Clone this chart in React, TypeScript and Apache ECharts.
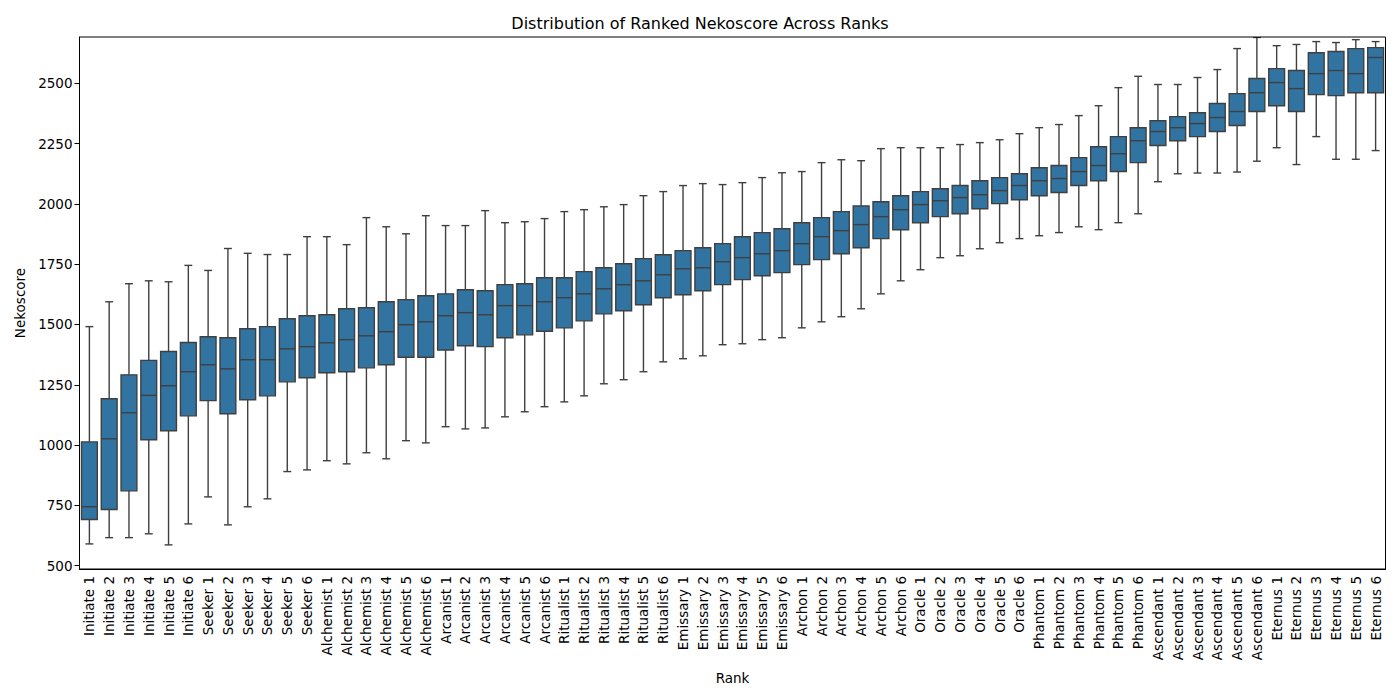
import React, { useEffect, useRef } from "react";
import * as echarts from "echarts";

const tiers = ["Initiate", "Seeker", "Alchemist", "Arcanist", "Ritualist", "Emissary", "Archon", "Oracle", "Phantom", "Ascendant", "Eternus"];
const categories: string[] = [];
tiers.forEach((t) => { for (let i = 1; i <= 6; i++) categories.push(`${t} ${i}`); });

const lows = [
  590, 616, 616, 632, 586, 673,
  785, 669, 744, 777, 890, 897,
  935, 922, 968, 943, 1018, 1009,
  1076, 1067, 1071, 1117, 1138, 1159,
  1179, 1204, 1254, 1271, 1304, 1345,
  1358, 1370, 1416, 1420, 1437, 1445,
  1486, 1511, 1532, 1565, 1627, 1681,
  1727, 1777, 1785, 1814, 1839, 1856,
  1868, 1881, 1905, 1893, 1922, 1959,
  2092, 2125, 2128, 2128, 2132, 2177,
  2233, 2163, 2279, 2185, 2185, 2221,
];
const q1s = [
  691, 733, 810, 1022, 1059, 1121,
  1184, 1130, 1188, 1204, 1262, 1279,
  1300, 1304, 1320, 1333, 1364, 1364,
  1394, 1412, 1408, 1445, 1457, 1472,
  1486, 1515, 1544, 1557, 1582, 1611,
  1623, 1640, 1665, 1686, 1702, 1715,
  1748, 1769, 1793, 1818, 1856, 1893,
  1922, 1947, 1959, 1980, 2001, 2017,
  2034, 2047, 2076, 2096, 2134, 2171,
  2242, 2262, 2279, 2300, 2325, 2383,
  2407, 2383, 2453, 2449, 2461, 2461,
];
const medians = [
  744, 1026, 1134, 1206, 1246, 1304,
  1333, 1316, 1354, 1354, 1399, 1408,
  1424, 1437, 1453, 1470, 1499, 1511,
  1536, 1549, 1540, 1578, 1578, 1594,
  1611, 1627, 1648, 1665, 1681, 1706,
  1731, 1735, 1760, 1777, 1793, 1806,
  1835, 1864, 1889, 1914, 1947, 1976,
  1997, 2013, 2026, 2038, 2055, 2076,
  2096, 2105, 2134, 2159, 2208, 2262,
  2300, 2316, 2333, 2358, 2383, 2461,
  2503, 2478, 2540, 2553, 2540, 2607,
];
const q3s = [
  1013, 1192, 1291, 1351, 1388, 1425,
  1449, 1445, 1482, 1491, 1524, 1536,
  1540, 1565, 1569, 1594, 1603, 1619,
  1627, 1644, 1640, 1665, 1669, 1694,
  1694, 1719, 1735, 1752, 1773, 1789,
  1806, 1818, 1835, 1864, 1881, 1897,
  1922, 1943, 1968, 1991, 2009, 2034,
  2051, 2063, 2076, 2096, 2109, 2125,
  2150, 2159, 2192, 2237, 2279, 2316,
  2345, 2362, 2378, 2416, 2457, 2520,
  2561, 2553, 2627, 2632, 2644, 2648,
];
const highs = [
  1491, 1594, 1669, 1681, 1677, 1745,
  1724, 1815, 1795, 1790, 1790, 1864,
  1864, 1831, 1943, 1905, 1876, 1951,
  1910, 1910, 1972, 1922, 1926, 1939,
  1968, 1976, 1988, 1997, 2034, 2051,
  2076, 2084, 2080, 2088, 2109, 2129,
  2134, 2171, 2183, 2179, 2229, 2233,
  2233, 2233, 2246, 2254, 2266, 2291,
  2316, 2329, 2366, 2407, 2482, 2529,
  2495, 2495, 2524, 2557, 2644, 2690,
  2656, 2661, 2673, 2669, 2681, 2673,
];
const yTicks = [500, 750, 1000, 1250, 1500, 1750, 2000, 2250, 2500];

const FILL = "#3274a1";
const LINE = "#3f3f3f";
const FONT = "DejaVu Sans";

export default function App() {
  const ref = useRef<HTMLDivElement>(null);
  useEffect(() => {
    if (!ref.current) return;
    const chart = echarts.init(ref.current, null, { renderer: "svg" });
    const data = categories.map((_, i) => [i, lows[i], q1s[i], medians[i], q3s[i], highs[i]]);
    chart.setOption({
      animation: false,
      backgroundColor: "#ffffff",
      title: {
        text: "Distribution of Ranked Nekoscore Across Ranks",
        left: "center",
        top: 10,
        textStyle: { fontFamily: FONT, fontSize: 16, fontWeight: "normal", color: "#000" },
      },
      grid: { left: 79.5, right: 14.5, top: 37, bottom: 131, containLabel: false },
      xAxis: {
        type: "category",
        data: categories,
        boundaryGap: true,
        name: "Rank",
        nameLocation: "middle",
        nameGap: 102,
        nameTextStyle: { fontFamily: FONT, fontSize: 13.5, color: "#000" },
        axisLine: { onZero: false, lineStyle: { color: "#000", width: 1 } },
        axisTick: { alignWithLabel: true, length: 5, lineStyle: { color: "#000" } },
        axisLabel: { interval: 0, rotate: 90, fontFamily: FONT, fontSize: 13.5, color: "#000", margin: 7 },
        splitLine: { show: false },
      },
      yAxis: {
        type: "value",
        min: 486,
        max: 2692,
        name: "Nekoscore",
        nameLocation: "middle",
        nameGap: 52,
        nameRotate: 90,
        nameTextStyle: { fontFamily: FONT, fontSize: 13.5, color: "#000" },
        axisLine: { show: true, lineStyle: { color: "#000", width: 1 } },
        axisTick: { show: true, length: 5, lineStyle: { color: "#000" }, customValues: yTicks },
        axisLabel: { fontFamily: FONT, fontSize: 13.5, color: "#000", margin: 7, customValues: yTicks, formatter: (v: number) => String(v) },
        splitLine: { show: false },
      },
      graphic: [
        {
          type: "rect",
          shape: { x: 79.5, y: 37, width: 1400 - 79.5 - 14.5, height: 700 - 37 - 131 },
          style: { fill: "none", stroke: "#000", lineWidth: 1 },
          silent: true,
          z: 100,
        },
      ],
      series: [
        {
          type: "custom",
          data,
          encode: { x: 0, y: [1, 2, 3, 4, 5] },
          clip: true,
          renderItem: (params: any, api: any) => {
            const i = api.value(0);
            const band = api.size([1, 0])[0];
            const bw = band * 0.8;
            const cw = bw * 0.5;
            const pLow = api.coord([i, api.value(1)]);
            const pQ1 = api.coord([i, api.value(2)]);
            const pMed = api.coord([i, api.value(3)]);
            const pQ3 = api.coord([i, api.value(4)]);
            const pHigh = api.coord([i, api.value(5)]);
            const cx = pLow[0];
            const ls = { stroke: LINE, lineWidth: 1.4 };
            return {
              type: "group",
              children: [
                { type: "line", shape: { x1: cx, y1: pQ1[1], x2: cx, y2: pLow[1] }, style: ls },
                { type: "line", shape: { x1: cx, y1: pQ3[1], x2: cx, y2: pHigh[1] }, style: ls },
                { type: "line", shape: { x1: cx - cw / 2, y1: pLow[1], x2: cx + cw / 2, y2: pLow[1] }, style: ls },
                { type: "line", shape: { x1: cx - cw / 2, y1: pHigh[1], x2: cx + cw / 2, y2: pHigh[1] }, style: ls },
                {
                  type: "rect",
                  shape: { x: cx - bw / 2, y: pQ3[1], width: bw, height: pQ1[1] - pQ3[1] },
                  style: { fill: FILL, stroke: LINE, lineWidth: 1.4 },
                },
                { type: "line", shape: { x1: cx - bw / 2, y1: pMed[1], x2: cx + bw / 2, y2: pMed[1] }, style: ls },
              ],
            };
          },
        },
      ],
    });
    return () => chart.dispose();
  }, []);
  return <div ref={ref} style={{ position: "fixed", left: 0, top: 0, width: 1400, height: 700 }} />;
}
